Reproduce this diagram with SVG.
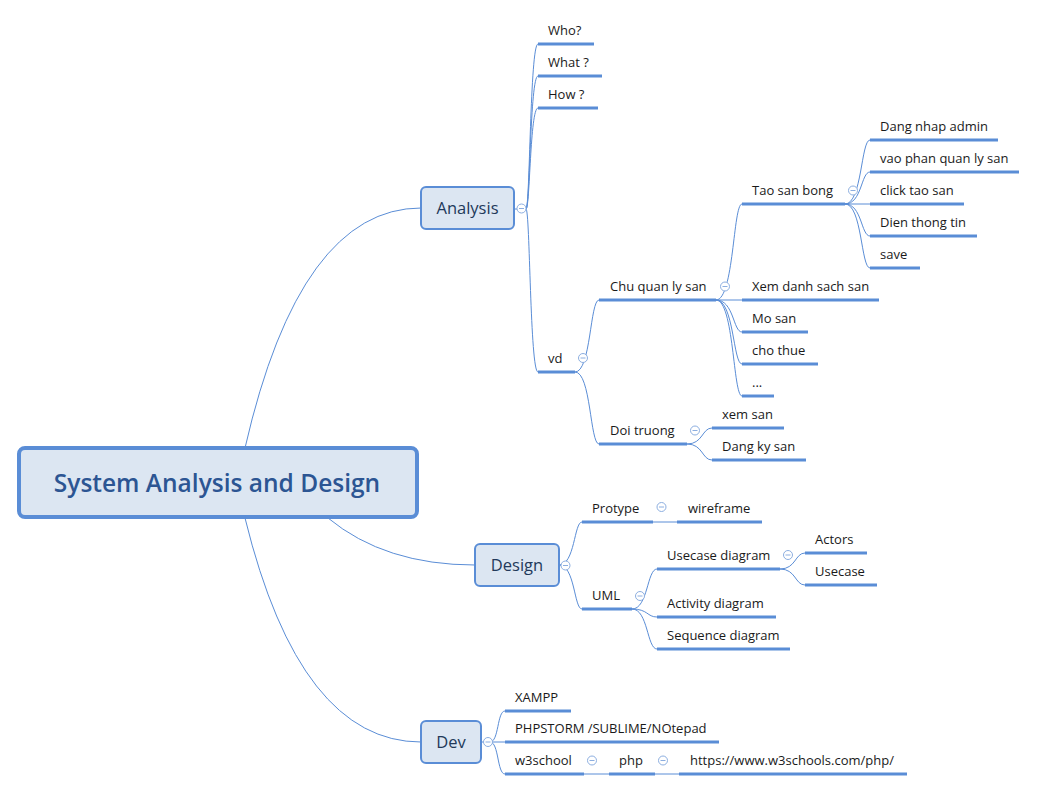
<svg xmlns="http://www.w3.org/2000/svg" width="1037" height="791" viewBox="0 0 1037 791">
<style>
.bg{fill:#ffffff}
.conn{fill:none;stroke:#5a8dd6;stroke-width:1}
.ul{fill:none;stroke:#5a8dd6;stroke-width:3}
.box{fill:#dce6f2;stroke:#5a8dd6;stroke-width:2}
.rootbox{fill:#dce6f2;stroke:#5a8dd6;stroke-width:4}
.t{font-family:"Open Sans","Noto Sans",sans-serif;font-size:13px;fill:#1a1a1a}
.nt{font-family:"Open Sans","Noto Sans",sans-serif;font-size:16.5px;fill:#22395a;text-anchor:middle}
.rt{font-family:"Open Sans","Noto Sans",sans-serif;font-size:24.5px;fill:#2c5593;text-anchor:middle;font-weight:600}
.cb{fill:#ffffff;stroke:#8caee0;stroke-width:1}
.cm{stroke:#8caee0;stroke-width:1}
</style>
<defs>
<g id="collapse"><circle class="cb" cx="0" cy="0" r="4.5"/><line class="cm" x1="-2.5" y1="0" x2="2.5" y2="0"/></g>
</defs>
<rect class="bg" x="0" y="0" width="1037" height="791"/>

<g id="connectors">
<path class="conn" d="M245,448 Q300,208 421,208"/>
<path class="conn" d="M328,518 Q385,565 475,565"/>
<path class="conn" d="M245,518 Q300,742 421,742"/>
<!-- Analysis -->
<path class="conn" d="M514,209 L526,209"/>
<path class="conn" d="M526,209 C530,209 530,44 538,44"/>
<path class="conn" d="M526,209 C530,209 530,76 538,76"/>
<path class="conn" d="M526,209 C530,209 530,108 538,108"/>
<path class="conn" d="M526,209 C530,209 530,372 538,372"/>
<!-- vd -->
<path class="conn" d="M575,372 C591,372 590,300 599,300"/>
<path class="conn" d="M575,372 C591,372 590,444 599,444"/>
<!-- Chu quan ly san -->
<path class="conn" d="M716,300 L742,300"/>
<path class="conn" d="M716,300 C734,300 733,204 742,204"/>
<path class="conn" d="M716,300 C734,300 733,332 742,332"/>
<path class="conn" d="M716,300 C734,300 733,364 742,364"/>
<path class="conn" d="M716,300 C734,300 733,396 742,396"/>
<!-- Tao san bong -->
<path class="conn" d="M845,204 L870,204"/>
<path class="conn" d="M845,204 C862,204 861,140 870,140"/>
<path class="conn" d="M845,204 C862,204 861,172 870,172"/>
<path class="conn" d="M845,204 C862,204 861,236 870,236"/>
<path class="conn" d="M845,204 C862,204 861,268 870,268"/>
<!-- Doi truong -->
<path class="conn" d="M687,444 C703,444 702,428 712,428"/>
<path class="conn" d="M687,444 C703,444 702,460 712,460"/>
<!-- Design -->
<path class="conn" d="M559,565 C575,565 574,522 582,522"/>
<path class="conn" d="M559,565 C575,565 574,609 582,609"/>
<path class="conn" d="M653,522 L677,522"/>
<path class="conn" d="M632,609 C648,609 647,569 657,569"/>
<path class="conn" d="M632,609 C648,609 647,617 657,617"/>
<path class="conn" d="M632,609 C648,609 647,649 657,649"/>
<path class="conn" d="M780,569 C796,569 795,553 805,553"/>
<path class="conn" d="M780,569 C796,569 795,585 805,585"/>
<!-- Dev -->
<path class="conn" d="M481,742 L505,742"/>
<path class="conn" d="M490,742 C499,742 497,711 505,711"/>
<path class="conn" d="M490,742 C499,742 497,774 505,774"/>
<path class="conn" d="M584,774 L609,774"/>
<path class="conn" d="M655,774 L679,774"/>
</g>

<g id="root">
<rect class="rootbox" x="19" y="448" width="398" height="69" rx="6"/>
<text class="rt" x="217" y="492">System Analysis and Design</text>
</g>

<g id="analysis">
<rect class="box" x="421" y="187" width="93" height="42" rx="5"/>
<text class="nt" x="467.5" y="214">Analysis</text>
<use href="#collapse" x="521.5" y="208.5"/>
</g>
<g id="who"><line class="ul" x1="538" y1="44" x2="594" y2="44"/><text class="t" x="548" y="35">Who?</text></g>
<g id="what"><line class="ul" x1="538" y1="76" x2="602" y2="76"/><text class="t" x="548" y="67">What ?</text></g>
<g id="how"><line class="ul" x1="538" y1="108" x2="598" y2="108"/><text class="t" x="548" y="99">How ?</text></g>
<g id="vd"><line class="ul" x1="538" y1="372" x2="575" y2="372"/><text class="t" x="548" y="363">vd</text><use href="#collapse" x="583" y="358"/></g>
<g id="chuquan"><line class="ul" x1="599" y1="300" x2="716" y2="300"/><text class="t" x="610" y="291">Chu quan ly san</text><use href="#collapse" x="725" y="286.5"/></g>
<g id="taosanbong"><line class="ul" x1="742" y1="204" x2="845" y2="204"/><text class="t" x="752" y="195">Tao san bong</text><use href="#collapse" x="853" y="190.5"/></g>
<g id="dangnhap"><line class="ul" x1="870" y1="140" x2="998" y2="140"/><text class="t" x="880" y="131">Dang nhap admin</text></g>
<g id="vaophan"><line class="ul" x1="870" y1="172" x2="1019" y2="172"/><text class="t" x="880" y="163">vao phan quan ly san</text></g>
<g id="clicktao"><line class="ul" x1="870" y1="204" x2="964" y2="204"/><text class="t" x="880" y="195">click tao san</text></g>
<g id="dienthong"><line class="ul" x1="870" y1="236" x2="977" y2="236"/><text class="t" x="880" y="227">Dien thong tin</text></g>
<g id="save"><line class="ul" x1="870" y1="268" x2="920" y2="268"/><text class="t" x="880" y="259">save</text></g>
<g id="xemdanh"><line class="ul" x1="742" y1="300" x2="879" y2="300"/><text class="t" x="752" y="291">Xem danh sach san</text></g>
<g id="mosan"><line class="ul" x1="742" y1="332" x2="808" y2="332"/><text class="t" x="752" y="323">Mo san</text></g>
<g id="chothue"><line class="ul" x1="742" y1="364" x2="818" y2="364"/><text class="t" x="752" y="355">cho thue</text></g>
<g id="dots"><line class="ul" x1="742" y1="396" x2="774" y2="396"/><text class="t" x="752" y="387">...</text></g>
<g id="doitruong"><line class="ul" x1="599" y1="444" x2="687" y2="444"/><text class="t" x="610" y="435">Doi truong</text><use href="#collapse" x="695" y="430.5"/></g>
<g id="xemsan"><line class="ul" x1="712" y1="428" x2="784" y2="428"/><text class="t" x="722" y="419">xem san</text></g>
<g id="dangky"><line class="ul" x1="712" y1="460" x2="806" y2="460"/><text class="t" x="722" y="451">Dang ky san</text></g>

<g id="design">
<rect class="box" x="475" y="544" width="84" height="42" rx="5"/>
<text class="nt" x="517" y="571">Design</text>
<use href="#collapse" x="565.5" y="565.5"/>
</g>
<g id="protype"><line class="ul" x1="582" y1="522" x2="653" y2="522"/><text class="t" x="592" y="513">Protype</text><use href="#collapse" x="661.5" y="507"/></g>
<g id="wireframe"><line class="ul" x1="677" y1="522" x2="762" y2="522"/><text class="t" x="688" y="513">wireframe</text></g>
<g id="uml"><line class="ul" x1="582" y1="609" x2="632" y2="609"/><text class="t" x="592" y="600">UML</text><use href="#collapse" x="640" y="596"/></g>
<g id="usecasediagram"><line class="ul" x1="657" y1="569" x2="780" y2="569"/><text class="t" x="667" y="560">Usecase diagram</text><use href="#collapse" x="788" y="555"/></g>
<g id="actors"><line class="ul" x1="805" y1="553" x2="867" y2="553"/><text class="t" x="815" y="544">Actors</text></g>
<g id="usecase"><line class="ul" x1="805" y1="585" x2="877" y2="585"/><text class="t" x="815" y="576">Usecase</text></g>
<g id="activity"><line class="ul" x1="657" y1="617" x2="776" y2="617"/><text class="t" x="667" y="608">Activity diagram</text></g>
<g id="sequence"><line class="ul" x1="657" y1="649" x2="790" y2="649"/><text class="t" x="667" y="640">Sequence diagram</text></g>

<g id="dev">
<rect class="box" x="421" y="721" width="60" height="42" rx="5"/>
<text class="nt" x="451" y="748">Dev</text>
<use href="#collapse" x="488" y="742"/>
</g>
<g id="xampp"><line class="ul" x1="505" y1="711" x2="571" y2="711"/><text class="t" x="515" y="702">XAMPP</text></g>
<g id="phpstorm"><line class="ul" x1="505" y1="742" x2="719" y2="742"/><text class="t" x="515" y="733">PHPSTORM /SUBLIME/NOtepad</text></g>
<g id="w3school"><line class="ul" x1="505" y1="774" x2="584" y2="774"/><text class="t" x="515" y="765">w3school</text><use href="#collapse" x="592" y="760.5"/></g>
<g id="php"><line class="ul" x1="609" y1="774" x2="655" y2="774"/><text class="t" x="619" y="765">php</text><use href="#collapse" x="663" y="760.5"/></g>
<g id="url"><line class="ul" x1="679" y1="774" x2="907" y2="774"/><text class="t" x="690" y="765">https://www.w3schools.com/php/</text></g>
</svg>
